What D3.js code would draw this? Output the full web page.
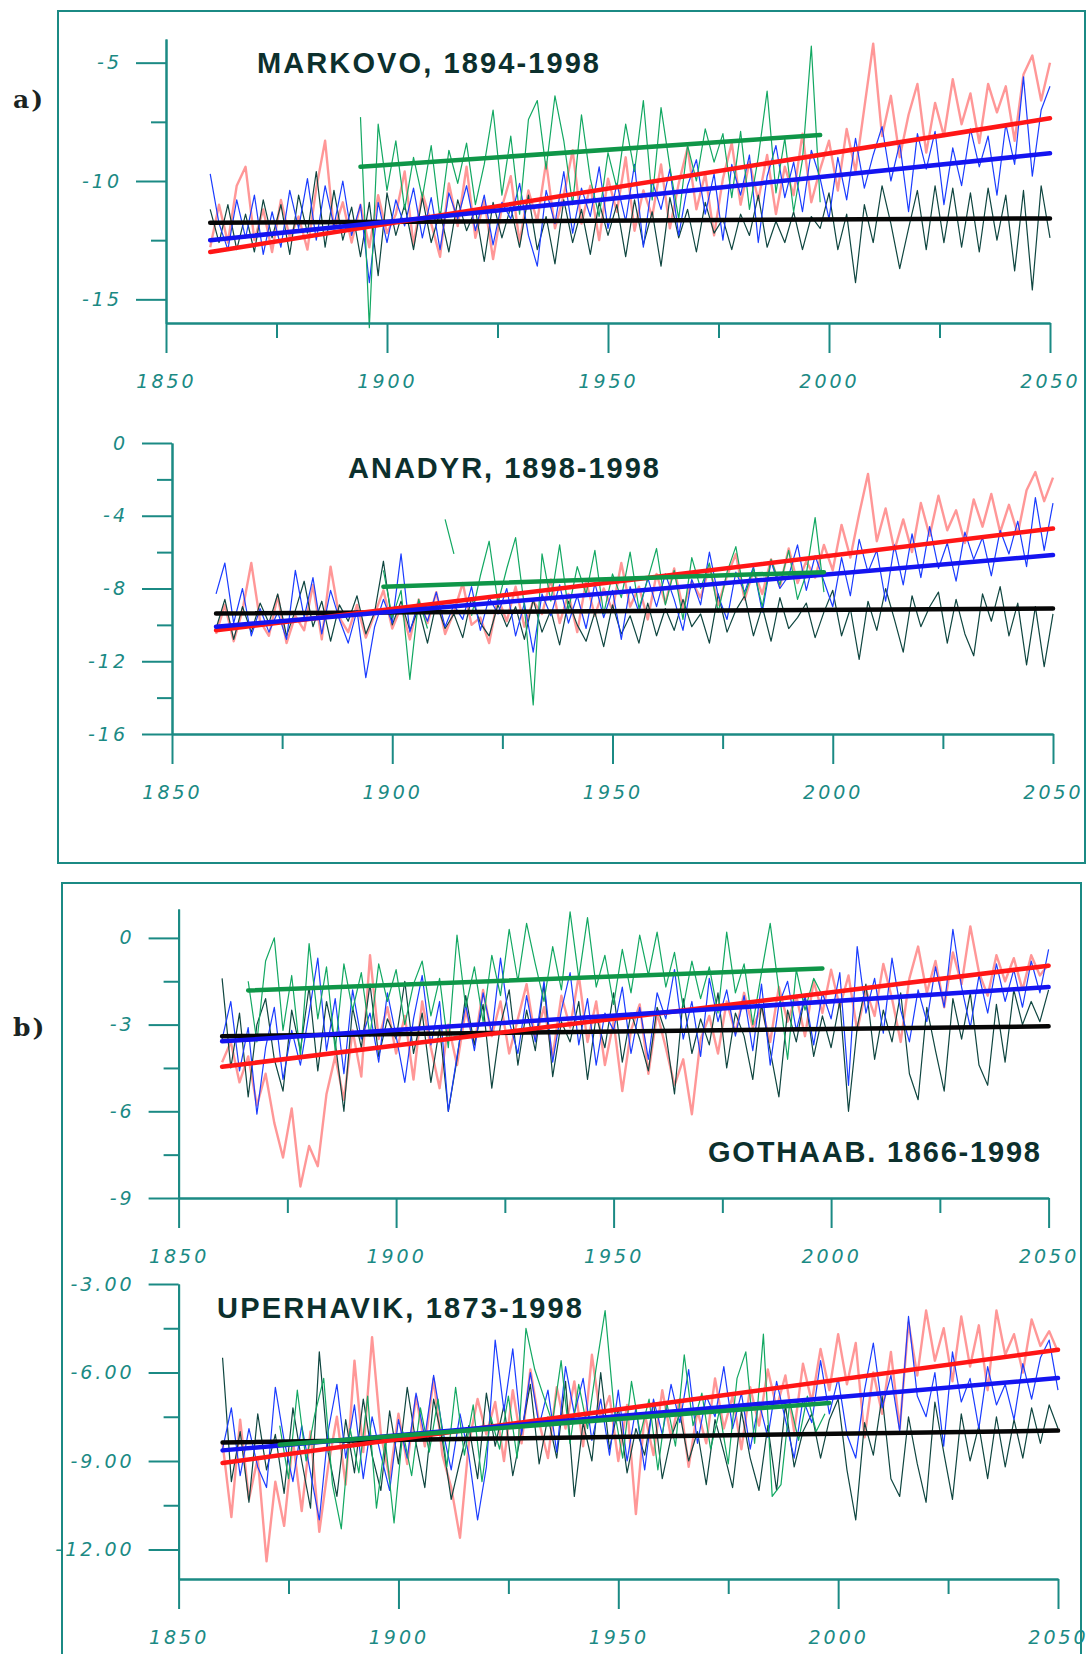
<!DOCTYPE html>
<html>
<head>
<meta charset="utf-8">
<script src="https://cdn.jsdelivr.net/npm/d3@7"></script>
<style>
	body { margin: 0; background: #fff; }
	svg { display: block; }
</style>
</head>
<body>
<svg id="chart" width="1088" height="1654"></svg>
<script>
(function(){
	'use strict';

	// ---- data (2-year steps) ----
	var modelStart = 1860, modelEnd = 2050, yearStep = 2, obsEnd = 1998;
	var xMajor = [1850, 1900, 1950, 2000, 2050];
	var xMinor = [1875, 1925, 1975, 2025];

	// MARKOVO
	var markovoStart = 1894;
	var markovoYTicks = [-5, -10, -15];
	var markovoYMinor = [-7.5, -12.5];
	var markovoBlack = [
		-11.2, -12.6, -11.0, -12.9, -11.4, -13.0, -10.8, -12.4, -11.0, -13.1,
		-10.6, -12.2, -9.6, -12.8, -10.4, -12.5, -11.1, -13.2, -10.9, -14.0,
		-10.5, -12.3, -11.0, -12.9, -10.7, -12.6, -11.3, -13.0, -10.8, -12.1,
		-11.2, -13.4, -10.9, -12.4, -11.1, -12.8, -10.6, -12.9, -11.5, -13.5,
		-10.8, -12.6, -11.2, -13.1, -10.9, -12.3, -11.0, -13.2, -10.8, -12.7,
		-11.3, -13.6, -10.7, -12.4, -11.2, -13.0, -10.9, -12.2, -11.6, -12.9,
		-11.4, -12.3, -10.6, -12.8, -11.7, -12.6, -11.3, -12.9, -11.5, -12.0,
		-10.5, -12.9, -11.4, -14.3, -11.0, -12.6, -10.2, -11.8, -13.7, -12.0,
		-10.4, -12.9, -10.2, -12.6, -10.3, -12.8, -10.5, -13.0, -10.3, -12.5,
		-10.6, -13.8, -10.4, -14.6, -10.2, -12.4];
	var markovoRed = [
		-12.8, -11.0, -12.6, -10.2, -9.4, -12.5, -11.2, -13.0, -10.8, -12.4,
		-11.5, -12.9, -10.3, -8.3, -12.1, -10.9, -12.6, -11.0, -12.8, -10.6,
		-12.2, -11.4, -9.6, -12.7, -10.5, -11.8, -13.2, -10.1, -11.9, -9.4,
		-12.4, -10.8, -13.3, -11.1, -9.8, -12.6, -10.4, -11.7, -9.2, -12.0,
		-10.6, -8.7, -11.8, -10.2, -12.5, -9.9, -11.3, -9.0, -12.1, -10.4,
		-11.5, -9.3, -12.0, -10.1, -8.6, -11.2, -9.7, -12.3, -9.9, -8.4,
		-11.0, -9.2, -10.8, -8.9, -11.4, -9.4, -10.6, -8.0, -10.9, -9.5,
		-8.3, -10.4, -7.8, -9.6, -6.9, -4.2, -8.1, -6.4, -9.0, -7.2,
		-5.9, -8.8, -6.7, -8.1, -5.7, -7.6, -6.3, -8.4, -5.9, -7.1,
		-6.0, -8.3, -5.5, -4.7, -6.6, -5.0];
	var markovoBlue = [
		-9.7, -11.8, -12.9, -10.8, -12.4, -10.6, -13.1, -11.3, -12.8, -10.4,
		-12.0, -9.9, -12.5, -10.2, -11.9, -10.0, -12.3, -11.0, -14.3, -10.9,
		-12.6, -10.8, -11.9, -10.3, -12.4, -10.7, -12.9, -10.5, -11.6, -10.2,
		-12.1, -10.6, -12.7, -10.9, -11.6, -10.1, -12.3, -13.6, -10.4, -11.8,
		-9.6, -12.2, -10.3, -11.5, -9.4, -12.0, -10.1, -11.7, -9.3, -12.8,
		-10.0, -11.2, -9.5, -12.3, -10.2, -9.1, -11.4, -9.7, -12.5, -9.3,
		-10.6, -8.9, -12.6, -9.8, -8.5, -10.7, -9.2, -11.3, -8.7, -9.9,
		-11.6, -9.0, -10.8, -8.2, -10.3, -8.9, -7.7, -10.0, -8.4, -11.3,
		-8.0, -9.5, -7.9, -11.0, -8.6, -10.2, -7.8, -9.4, -8.1, -10.6,
		-7.6, -9.3, -5.6, -9.8, -7.0, -6.0];
	var markovoGreen = [
		-7.3, -16.2, -7.6, -10.4, -8.3, -11.2, -9.0, -10.7, -8.5, -11.6,
		-8.7, -10.1, -8.4, -11.0, -9.3, -7.0, -10.6, -8.1, -11.4, -7.4,
		-6.6, -9.5, -6.4, -8.3, -11.0, -7.2, -9.9, -11.5, -8.8, -10.3,
		-7.6, -9.6, -6.6, -10.8, -6.9, -9.4, -11.6, -8.5, -10.0, -7.8,
		-9.2, -8.0, -10.7, -7.9, -11.2, -9.0, -6.2, -10.5, -8.2, -11.3,
		-9.1, -4.3, -10.9];
	var markovoTrendBlack = [-11.76, -11.58];
	var markovoTrendRed = [-13.0, -7.35];
	var markovoTrendBlue = [-12.5, -8.83];
	var markovoTrendGreen = [-9.4, -8.06];

	// ANADYR
	var anadyrStart = 1898;
	var anadyrYTicks = [0, -4, -8, -12, -16];
	var anadyrYMinor = [-2, -6, -10, -14];
	var anadyrBlack = [
		-10.2, -8.6, -10.8, -9.0, -10.4, -8.8, -9.9, -8.3, -10.6, -9.2,
		-7.6, -10.1, -8.7, -10.9, -8.9, -9.8, -8.4, -10.5, -9.3, -6.5,
		-10.0, -8.7, -10.3, -9.1, -11.0, -8.8, -10.2, -9.4, -10.7, -8.5,
		-9.9, -10.6, -8.9, -10.1, -9.0, -10.8, -8.6, -10.4, -9.2, -11.1,
		-8.7, -10.0, -10.9, -9.3, -11.2, -8.9, -10.5, -9.5, -11.0, -8.8,
		-10.6, -9.1, -10.3, -8.6, -10.1, -9.4, -11.0, -8.3, -10.4, -9.2,
		-8.4, -10.6, -9.0, -10.9, -8.5, -10.2, -9.6, -8.8, -10.7, -9.3,
		-8.1, -10.6, -9.1, -11.9, -8.7, -10.3, -8.0, -9.7, -11.5, -8.4,
		-10.1, -9.0, -8.2, -11.0, -8.6, -10.5, -11.7, -8.3, -9.8, -7.9,
		-10.6, -8.8, -12.2, -9.0, -12.3, -9.4];
	var anadyrRed = [
		-10.5, -8.9, -10.9, -9.2, -6.6, -9.8, -10.6, -8.4, -11.0, -9.5,
		-10.3, -7.8, -10.8, -6.8, -9.6, -10.4, -8.9, -10.7, -9.4, -8.1,
		-10.2, -9.0, -10.8, -8.6, -9.9, -8.2, -10.5, -9.3, -7.7, -10.0,
		-9.6, -11.0, -8.5, -9.8, -7.9, -10.1, -8.7, -9.4, -7.5, -9.9,
		-8.3, -10.4, -7.6, -9.5, -8.0, -9.2, -6.6, -9.0, -7.9, -9.7,
		-7.2, -8.8, -6.9, -9.1, -7.6, -8.5, -6.8, -8.9, -7.3, -6.1,
		-8.6, -7.0, -8.3, -6.4, -7.9, -5.8, -7.7, -6.5, -7.4, -5.6,
		-7.0, -4.5, -6.3, -3.9, -1.7, -5.4, -3.6, -5.9, -4.2, -6.0,
		-3.3, -5.1, -2.9, -4.8, -3.7, -5.5, -3.1, -4.6, -2.8, -4.9,
		-3.4, -5.0, -2.6, -1.6, -3.2, -1.9];
	var anadyrBlue = [
		-8.3, -6.6, -9.9, -8.0, -10.6, -9.1, -10.4, -9.3, -10.8, -7.0,
		-9.6, -7.4, -10.5, -8.1, -9.7, -11.0, -9.2, -12.9, -10.1, -8.6,
		-9.9, -6.1, -10.4, -8.7, -9.8, -8.2, -10.1, -8.9, -9.7, -7.9,
		-10.3, -8.5, -9.4, -8.0, -10.6, -8.8, -11.5, -8.3, -9.5, -7.8,
		-9.9, -8.4, -10.2, -7.7, -9.6, -8.1, -10.8, -7.9, -9.3, -7.4,
		-9.0, -7.2, -8.6, -10.3, -7.5, -8.9, -6.0, -8.4, -9.7, -7.1,
		-8.2, -6.8, -9.3, -6.5, -8.0, -7.3, -5.6, -8.1, -6.2, -7.6,
		-9.0, -6.3, -8.4, -5.3, -7.1, -5.9, -8.7, -5.6, -7.8, -5.0,
		-7.4, -4.6, -6.9, -5.5, -7.6, -4.9, -6.4, -5.2, -7.3, -4.8,
		-6.1, -4.3, -6.8, -3.0, -5.9, -3.3];
	var anadyrGreen = [
		-7.0, -9.6, -8.1, -13.0, -8.6, -10.2, null, -4.2, -6.1, null,
		-9.5, -7.3, -5.4, -8.8, -6.9, -5.2, -9.0, -14.4, -6.1, -8.7,
		-5.6, -9.2, -6.8, -8.3, -5.9, -9.4, -7.2, -8.5, -6.0, -9.1,
		-7.5, -5.8, -8.9, -7.0, -9.7, -6.3, -8.0, -6.6, -9.3, -7.1,
		-5.7, -8.4, -6.9, -9.0, -6.4, -7.8, -5.9, -8.6, -7.2, -4.1,
		-8.2];
	var anadyrTrendBlack = [-9.37, -9.1];
	var anadyrTrendRed = [-10.3, -4.7];
	var anadyrTrendBlue = [-10.1, -6.16];
	var anadyrTrendGreen = [-7.9, -7.1];

	// GOTHAAB
	var gothaabStart = 1866;
	var gothaabYTicks = [0, -3, -6, -9];
	var gothaabYMinor = [-1.5, -4.5, -7.5];
	var gothaabBlack = [
		-1.4, -4.5, -2.6, -5.5, -3.0, -2.1, -4.2, -5.3, -2.5, -3.9,
		-1.7, -4.6, -2.2, -3.6, -6.0, -2.4, -3.8, -1.6, -4.1, -2.8,
		-3.5, -1.5, -4.0, -2.6, -5.0, -3.1, -6.0, -4.2, -2.0, -3.7,
		-2.3, -5.2, -3.0, -1.8, -4.4, -2.5, -3.9, -1.6, -4.8, -2.9,
		-3.6, -2.2, -4.9, -2.7, -3.8, -1.9, -4.3, -2.6, -3.5, -4.6,
		-2.4, -3.3, -5.4, -2.1, -4.0, -2.8, -3.7, -1.9, -4.5, -2.6,
		-3.4, -4.9, -2.3, -3.9, -5.5, -2.5, -3.6, -2.0, -4.1, -2.7,
		-3.8, -2.2, -6.0, -3.1, -1.6, -4.2, -2.5, -3.6, -1.9, -4.7,
		-5.6, -2.4, -3.9, -5.3, -2.1, -3.5, -1.9, -4.4, -5.1, -2.3,
		-4.3, -1.8, -3.0, -2.2, -2.9, -1.8];
	var gothaabRed = [
		-4.3, -3.6, -5.0, -4.1, -5.8, -4.7, -6.4, -7.6, -5.9, -8.6,
		-7.2, -7.9, -5.4, -4.1, -5.6, -3.2, -4.8, -0.6, -3.5, -2.4,
		-4.0, -2.7, -4.9, -2.2, -3.8, -5.2, -3.0, -4.4, -2.5, -3.7,
		-1.8, -3.4, -2.2, -4.0, -2.8, -1.6, -3.5, -2.4, -4.1, -2.0,
		-3.1, -1.3, -3.6, -2.2, -4.4, -2.9, -5.3, -3.2, -2.3, -4.7,
		-2.6, -3.8, -5.1, -4.2, -6.1, -3.5, -2.7, -4.0, -2.2, -3.3,
		-1.9, -3.1, -2.4, -3.6, -1.7, -2.9, -2.0, -3.4, -1.5, -2.6,
		-1.1, -2.4, -1.3, -3.2, -1.8, -2.7, -0.9, -2.1, -3.6, -1.4,
		-0.3, -1.9, -0.8, -2.4, -0.5, -1.6, 0.4, -1.2, -2.0, -0.6,
		-1.5, -0.7, -1.8, -0.6, -1.3, -0.9];
	var gothaabBlue = [
		-3.5, -2.2, -4.6, -3.1, -6.1, -3.8, -2.4, -4.9, -3.2, -4.4,
		-2.6, -0.7, -3.9, -2.1, -4.7, -1.8, -3.5, -2.6, -4.3, -1.9,
		-3.4, -5.0, -2.8, -1.3, -3.7, -2.2, -6.0, -4.1, -2.3, -3.9,
		-1.9, -3.3, -0.7, -2.9, -4.0, -2.0, -3.6, -1.5, -4.3, -2.5,
		-1.2, -3.7, -2.1, -4.4, -2.6, -3.2, -1.7, -4.0, -2.4, -4.2,
		-1.9, -2.8, -1.1, -3.5, -2.2, -4.1, -1.4, -2.9, -1.8, -3.4,
		-2.0, -3.9, -1.6, -4.4, -2.3, -1.5, -3.2, -2.0, -3.7, -1.9,
		-2.8, -1.2, -5.1, -0.3, -2.6, -1.4, -3.3, -0.7, -2.5, -3.6,
		-1.8, -2.9, -1.0, -2.4, 0.3, -1.7, -3.1, -1.3, -2.6, -0.9,
		-2.2, -1.1, -2.4, -0.8, -1.9, -0.4];
	var gothaabGreen = [
		-1.5, -3.6, -0.8, 0.0, -3.2, -1.3, -4.1, -0.2, -2.8, -1.0,
		-3.9, -0.9, -2.5, -1.2, -3.4, -0.9, -2.2, -1.1, -3.0, -1.6,
		-0.8, -2.7, -1.4, -3.8, 0.1, -2.4, -1.0, -2.9, -0.6, -2.0,
		0.3, -1.5, 0.5, -0.9, -2.2, -0.3, -1.8, 0.9, -1.4, 0.7,
		-1.7, -0.6, -2.3, -0.4, -1.9, 0.1, -1.3, 0.2, -1.7, -0.5,
		-2.4, -0.8, -2.1, -1.0, -2.6, 0.2, -1.9, -0.9, -3.0, -1.2,
		0.5, -1.8, -4.2, -1.1, -2.5, -1.4, -2.0];
	var gothaabTrendBlack = [-3.4, -3.06];
	var gothaabTrendRed = [-4.46, -0.96];
	var gothaabTrendBlue = [-3.58, -1.7];
	var gothaabTrendGreen = [-1.82, -1.06];

	// UPERHAVIK
	var uperhavikStart = 1873;
	var uperhavikYTicks = [-3, -6, -9, -12];
	var uperhavikYMinor = [-4.5, -7.5, -10.5];
	var uperhavikBlack = [
		-5.5, -9.7, -8.0, -10.4, -7.4, -9.3, -8.1, -10.1, -7.2, -9.0,
		-10.6, -5.3, -8.7, -10.2, -7.6, -9.4, -6.9, -8.8, -10.0, -7.3,
		-9.1, -6.5, -8.4, -9.9, -6.9, -8.3, -10.3, -9.0, -7.8, -9.6,
		-6.7, -8.5, -7.1, -9.5, -8.0, -6.4, -9.1, -7.5, -8.9, -6.3,
		-10.2, -7.7, -9.0, -6.0, -8.6, -7.2, -9.4, -7.9, -8.8, -7.0,
		-9.6, -8.2, -7.4, -9.0, -8.0, -9.8, -7.6, -8.7, -9.9, -7.3,
		-8.9, -10.0, -7.8, -10.0, -7.1, -9.2, -8.0, -7.4, -8.9, -7.6,
		-6.9, -9.3, -11.0, -7.7, -8.8, -6.8, -9.6, -10.2, -7.5, -9.1,
		-10.4, -7.0, -8.7, -10.3, -7.4, -9.0, -7.8, -9.6, -7.5, -9.2,
		-7.6, -8.9, -7.2, -8.4, -7.1, -7.9];
	var uperhavikRed = [
		-8.4, -10.9, -7.6, -10.3, -8.9, -12.4, -9.7, -11.2, -8.3, -10.7,
		-8.0, -11.4, -9.2, -7.5, -9.8, -5.6, -8.7, -4.8, -8.1, -9.6,
		-7.4, -9.1, -6.8, -8.5, -6.2, -8.8, -9.9, -11.6, -8.4, -6.9,
		-8.1, -7.0, -9.0, -6.6, -8.4, -5.9, -7.7, -8.9, -6.5, -7.9,
		-6.3, -8.5, -5.4, -7.6, -6.8, -9.0, -7.1, -10.8, -7.4, -8.8,
		-6.6, -8.2, -6.9, -9.2, -7.3, -8.4, -6.2, -7.9, -6.8, -8.6,
		-6.5, -7.8, -5.9, -7.2, -6.1, -8.0, -5.7, -7.0, -5.2, -6.6,
		-4.7, -6.4, -5.0, -8.2, -6.0, -7.4, -5.3, -7.9, -4.3, -6.1,
		-3.9, -5.6, -4.5, -6.3, -4.1, -5.8, -4.4, -6.6, -3.9, -5.4,
		-4.7, -6.0, -4.2, -5.1, -4.6, -5.3];
	var uperhavikBlue = [
		-8.6, -7.2, -9.5, -7.9, -9.2, -9.9, -6.5, -8.3, -9.7, -7.8,
		-9.4, -11.0, -8.0, -6.4, -8.9, -7.1, -9.6, -7.5, -8.8, -10.0,
		-7.6, -8.9, -6.7, -8.2, -6.1, -7.9, -9.3, -7.4, -8.8, -11.0,
		-9.2, -4.9, -7.3, -5.2, -8.1, -6.0, -7.8, -6.6, -8.7, -5.8,
		-7.4, -6.2, -8.3, -6.9, -8.8, -6.6, -9.0, -7.2, -9.3, -6.9,
		-8.1, -6.4, -7.7, -5.9, -8.4, -6.8, -7.5, -5.8, -7.9, -6.7,
		-8.6, -7.0, -8.2, -6.3, -7.6, -8.9, -6.9, -7.7, -5.6, -7.4,
		-6.2, -8.1, -8.9, -6.6, -5.0, -7.2, -6.1, -8.0, -4.1, -6.8,
		-7.5, -6.0, -8.5, -5.3, -7.0, -6.2, -7.9, -5.8, -7.1, -6.4,
		-7.6, -5.7, -6.9, -5.5, -4.9, -6.6];
	var uperhavikGreen = [
		-7.8, -9.6, -6.6, -9.0, -7.4, -6.2, -9.8, -11.3, -7.9, -9.4,
		-6.8, -10.6, -8.3, -11.1, -8.0, -9.5, -7.2, -8.7, -6.9, -9.2,
		-6.5, -8.8, -7.1, -9.7, -7.5, -8.6, -6.8, -8.9, -4.5, -5.9,
		-6.8, -7.7, -5.6, -8.4, -6.4, -7.9, -5.8, -3.9, -7.2, -8.9,
		-6.3, -8.1, -6.9, -9.3, -7.0, -8.5, -5.4, -7.8, -6.7, -8.6,
		-7.3, -9.1, -6.2, -5.3, -8.4, -4.7, -10.2, -9.8, -7.0, -8.3,
		-6.8, -8.0, -7.4];
	var uperhavikTrendBlack = [-8.37, -7.97];
	var uperhavikTrendRed = [-9.07, -5.23];
	var uperhavikTrendBlue = [-8.64, -6.19];
	var uperhavikTrendGreen = [-8.45, -7.03];

	// ---- styles ----
	var teal = '#1b8a84';
	var ink = '#0c302d';
	var sansFont = '"Liberation Sans", Arial, Helvetica, sans-serif';
	var tickFont = '"DejaVu Sans", Verdana, sans-serif';
	var seriesStyle = {
		red:   { color: '#ff6f6f', width: 2.4, opacity: 0.72 },
		black: { color: '#0f4640', width: 1.2, opacity: 1 },
		blue:  { color: '#1a3cff', width: 1.2, opacity: 1 },
		green: { color: '#12a862', width: 1.2, opacity: 1 }
	};
	var trendStyle = {
		black: '#060606',
		red: '#ff1616',
		blue: '#1414f0',
		green: '#0f9648'
	};

	var plainNum = function(d){ return String(d); };
	var fixed2 = function(d){ return d.toFixed(2); };

	var panels = [
		{
			title: 'MARKOVO, 1894-1998', titleX: 257, titleY: 63, titleW: 342,
			xRange: [166, 1050], yRange: [323, 39], yDomain: [-16, -4],
			yTicks: markovoYTicks, yMinor: markovoYMinor, fmt: plainNum,
			black: markovoBlack, red: markovoRed, blue: markovoBlue,
			green: markovoGreen, greenStart: markovoStart,
			trends: { black: markovoTrendBlack, red: markovoTrendRed, blue: markovoTrendBlue, green: markovoTrendGreen }
		},
		{
			title: 'ANADYR, 1898-1998', titleX: 348, titleY: 468, titleW: 311,
			xRange: [172, 1053], yRange: [734, 443], yDomain: [-16, 0],
			yTicks: anadyrYTicks, yMinor: anadyrYMinor, fmt: plainNum,
			black: anadyrBlack, red: anadyrRed, blue: anadyrBlue,
			green: anadyrGreen, greenStart: anadyrStart,
			trends: { black: anadyrTrendBlack, red: anadyrTrendRed, blue: anadyrTrendBlue, green: anadyrTrendGreen }
		},
		{
			title: 'GOTHAAB. 1866-1998', titleX: 708, titleY: 1152, titleW: 332,
			xRange: [178.6, 1048.6], yRange: [1198, 909], yDomain: [-9, 1],
			yTicks: gothaabYTicks, yMinor: gothaabYMinor, fmt: plainNum,
			black: gothaabBlack, red: gothaabRed, blue: gothaabBlue,
			green: gothaabGreen, greenStart: gothaabStart,
			trends: { black: gothaabTrendBlack, red: gothaabTrendRed, blue: gothaabTrendBlue, green: gothaabTrendGreen }
		},
		{
			title: 'UPERHAVIK, 1873-1998', titleX: 217, titleY: 1308, titleW: 365,
			xRange: [178.6, 1058], yRange: [1579, 1284], yDomain: [-13, -3],
			yTicks: uperhavikYTicks, yMinor: uperhavikYMinor, fmt: fixed2,
			black: uperhavikBlack, red: uperhavikRed, blue: uperhavikBlue,
			green: uperhavikGreen, greenStart: uperhavikStart,
			trends: { black: uperhavikTrendBlack, red: uperhavikTrendRed, blue: uperhavikTrendBlue, green: uperhavikTrendGreen }
		}
	];

	var svg = d3.select('#chart');

	// frames and panel letters
	svg.append('rect')
		.attr('x', 58).attr('y', 11).attr('width', 1027).attr('height', 852)
		.attr('fill', 'none').attr('stroke', teal).attr('stroke-width', 2);
	svg.append('rect')
		.attr('x', 62).attr('y', 883).attr('width', 1019).attr('height', 790)
		.attr('fill', 'none').attr('stroke', teal).attr('stroke-width', 2);

	[['a)', 99], ['b)', 1027]].forEach(function(l){
		svg.append('text')
			.text(l[0])
			.attr('x', 13).attr('y', l[1]).attr('dy', '0.35em')
			.attr('font-family', '"DejaVu Serif", serif')
			.attr('font-weight', 'bold')
			.attr('font-size', 25)
			.attr('letter-spacing', 2)
			.attr('fill', '#1a2422');
	});

	panels.forEach(drawPanel);

	function toPoints(values, start){
		return values.map(function(v, i){ return [start + i * yearStep, v]; });
	}

	function drawPanel(p){
		var x = d3.scaleLinear().domain([1850, 2050]).range(p.xRange);
		var y = d3.scaleLinear().domain(p.yDomain).range(p.yRange);
		var g = svg.append('g');

		var line = d3.line()
			.defined(function(d){ return d[1] !== null; })
			.x(function(d){ return x(d[0]); })
			.y(function(d){ return y(d[1]); });

		// noisy series
		[['red', p.red, modelStart], ['black', p.black, modelStart],
		 ['blue', p.blue, modelStart], ['green', p.green, p.greenStart]].forEach(function(s){
			var st = seriesStyle[s[0]];
			g.append('path')
				.datum(toPoints(s[1], s[2]))
				.attr('d', line)
				.attr('fill', 'none')
				.attr('stroke', st.color)
				.attr('stroke-width', st.width)
				.attr('stroke-opacity', st.opacity)
				.attr('stroke-linejoin', 'round');
		});

		// trend lines
		['black', 'red', 'blue', 'green'].forEach(function(k){
			var t = p.trends[k];
			var x0 = k === 'green' ? p.greenStart : modelStart;
			var x1 = k === 'green' ? obsEnd : modelEnd;
			g.append('path')
				.datum([[x0, t[0]], [x1, t[1]]])
				.attr('d', line)
				.attr('fill', 'none')
				.attr('stroke', trendStyle[k])
				.attr('stroke-width', 4.5)
				.attr('stroke-linecap', 'round');
		});

		// axes
		var yMinorAxis = g.append('g')
			.attr('transform', 'translate(' + p.xRange[0] + ',0)')
			.call(d3.axisLeft(y).tickValues(p.yMinor).tickSize(15).tickSizeOuter(0).tickFormat(''));
		var yAxis = g.append('g')
			.attr('transform', 'translate(' + p.xRange[0] + ',0)')
			.call(d3.axisLeft(y).tickValues(p.yTicks).tickSize(30).tickSizeOuter(0).tickPadding(14).tickFormat(p.fmt));
		var xMinorAxis = g.append('g')
			.attr('transform', 'translate(0,' + p.yRange[0] + ')')
			.call(d3.axisBottom(x).tickValues(xMinor).tickSize(15).tickSizeOuter(0).tickFormat(''));
		var xAxis = g.append('g')
			.attr('transform', 'translate(0,' + p.yRange[0] + ')')
			.call(d3.axisBottom(x).tickValues(xMajor).tickSize(30).tickSizeOuter(0).tickPadding(22).tickFormat(d3.format('d')));

		[yMinorAxis, yAxis, xMinorAxis, xAxis].forEach(function(a){
			a.style('color', teal)
				.attr('font-family', tickFont)
				.attr('font-size', 19)
				.attr('font-style', 'italic')
				.attr('letter-spacing', 3);
			a.selectAll('line, path').attr('stroke-width', 2);
		});

		// station title
		g.append('text')
			.text(p.title)
			.attr('x', p.titleX).attr('y', p.titleY).attr('dy', '0.36em')
			.attr('textLength', p.titleW)
			.attr('lengthAdjust', 'spacing')
			.attr('font-family', sansFont)
			.attr('font-weight', 'bold')
			.attr('font-size', 29)
			.attr('fill', ink);
	}

})();
</script>
</body>
</html>
